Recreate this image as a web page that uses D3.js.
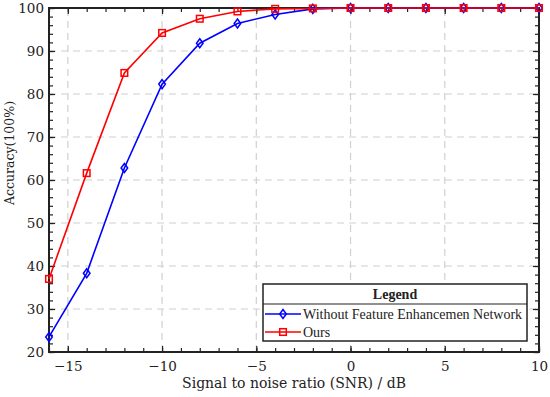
<!DOCTYPE html>
<html>
<head>
<meta charset="utf-8">
<script src="https://cdn.jsdelivr.net/npm/d3@7"></script>
<style>
  body { margin: 0; background: #fff; }
</style>
</head>
<body>
<div class="chart"></div>
<script>
var snr = [-16, -14, -12, -10, -8, -6, -4, -2, 0, 2, 4, 6, 8, 10];
var withoutFEN = [23.5, 38.3, 62.8, 82.3, 91.8, 96.4, 98.5, 99.8, 100, 100, 100, 100, 100, 100];
var ours = [37, 61.6, 84.9, 94.2, 97.5, 99.2, 99.8, 99.9, 100, 100, 100, 100, 100, 100];
var xTicks = [-15, -10, -5, 0, 5, 10];
var yTicks = [20, 30, 40, 50, 60, 70, 80, 90, 100];
var seriesNames = ["Without Feature Enhancemen Network", "Ours"];

var width = 550, height = 397;
var margin = { left: 49, right: 11, top: 8, bottom: 45 };
var cmFont = "'DejaVu Serif', serif";
var timesFont = "'Liberation Serif', serif";

var svg = d3.select(".chart").append("svg")
    .attr("width", width)
    .attr("height", height);

var x = d3.scaleLinear().domain([-16, 10]).range([margin.left, width - margin.right]);
var y = d3.scaleLinear().domain([20, 100]).range([height - margin.bottom, margin.top]);

var x0 = x.range()[0], x1 = x.range()[1], y0 = y.range()[0], y1 = y.range()[1];

// grid
var grid = svg.append("g").attr("class", "grid")
    .attr("stroke", "#d0d0d0").attr("stroke-width", 1.2).attr("stroke-dasharray", "7,5");
grid.selectAll(".gx").data(xTicks.filter(function (d) { return d > -16 && d < 10; }))
    .enter().append("line")
    .attr("x1", function (d) { return x(d); }).attr("x2", function (d) { return x(d); })
    .attr("y1", y0).attr("y2", y1);
grid.selectAll(".gy").data(yTicks.filter(function (d) { return d > 20 && d < 100; }))
    .enter().append("line")
    .attr("y1", function (d) { return y(d); }).attr("y2", function (d) { return y(d); })
    .attr("x1", x0).attr("x2", x1);

// axes: ticks pointing inward
var xMinor = d3.range(-16, 11, 1);
var yMinor = d3.range(20, 101, 2);

function styleAxis(g) {
    g.attr("font-family", cmFont).attr("font-size", 13.5);
    g.select(".domain").remove();
    g.selectAll("text").attr("fill", "#222");
    g.selectAll("line").attr("stroke", "#222").attr("stroke-width", 1.2);
}

function addAxis(axis, tx, ty) {
    svg.append("g").attr("transform", "translate(" + tx + "," + ty + ")")
        .call(axis).call(styleAxis);
}

addAxis(d3.axisBottom(x).tickValues(xMinor).tickSize(-4).tickFormat(""), 0, y0);
addAxis(d3.axisBottom(x).tickValues(xTicks).tickSize(-6).tickPadding(9)
    .tickFormat(function (d) { return d < 0 ? "\u2212" + Math.abs(d) : d; }), 0, y0);
addAxis(d3.axisTop(x).tickValues(xMinor).tickSize(-4).tickFormat(""), 0, y1);
addAxis(d3.axisTop(x).tickValues(xTicks).tickSize(-6).tickFormat(""), 0, y1);
addAxis(d3.axisLeft(y).tickValues(yMinor).tickSize(-4).tickFormat(""), x0, 0);
addAxis(d3.axisLeft(y).tickValues(yTicks).tickSize(-6).tickPadding(5), x0, 0);
addAxis(d3.axisRight(y).tickValues(yMinor).tickSize(-4).tickFormat(""), x1, 0);
addAxis(d3.axisRight(y).tickValues(yTicks).tickSize(-6).tickFormat(""), x1, 0);

// frame
svg.append("rect")
    .attr("x", x0).attr("y", y1).attr("width", x1 - x0).attr("height", y0 - y1)
    .attr("fill", "none").attr("stroke", "#222").attr("stroke-width", 2);

// lines
var line = d3.line().x(function (d) { return x(d[0]); }).y(function (d) { return y(d[1]); });
var blueData = snr.map(function (s, i) { return [s, withoutFEN[i]]; });
var redData = snr.map(function (s, i) { return [s, ours[i]]; });

function diamond(g, cx, cy, color) {
    g.append("path")
        .attr("d", "M" + cx + "," + (cy - 4.5) + "L" + (cx + 3.3) + "," + cy + "L" + cx + "," + (cy + 4.5) + "L" + (cx - 3.3) + "," + cy + "Z")
        .attr("fill", "none").attr("stroke", color).attr("stroke-width", 1.5);
}
function square(g, cx, cy, color) {
    g.append("rect")
        .attr("x", cx - 3.3).attr("y", cy - 3.3).attr("width", 6.6).attr("height", 6.6)
        .attr("fill", "none").attr("stroke", color).attr("stroke-width", 1.5);
}

var gb = svg.append("g");
gb.append("path").datum(blueData).attr("d", line)
    .attr("fill", "none").attr("stroke", "#0000ff").attr("stroke-width", 1.6);
blueData.forEach(function (d) { diamond(gb, x(d[0]), y(d[1]), "#0000ff"); });

var gr = svg.append("g");
gr.append("path").datum(redData).attr("d", line)
    .attr("fill", "none").attr("stroke", "#ff0000").attr("stroke-width", 1.6);
redData.forEach(function (d) { square(gr, x(d[0]), y(d[1]), "#ff0000"); });

// axis labels
svg.append("text")
    .attr("x", 294).attr("y", 388)
    .attr("text-anchor", "middle").attr("font-family", cmFont).attr("font-size", 14)
    .attr("fill", "#222")
    .text("Signal to noise ratio (SNR) / dB");
svg.append("text")
    .attr("transform", "translate(14,153) rotate(-90)")
    .attr("text-anchor", "middle").attr("font-family", cmFont).attr("font-size", 12.5)
    .attr("fill", "#222")
    .text("Accuracy(100%)");

// legend
var lg = svg.append("g").attr("transform", "translate(263,284)");
lg.append("rect").attr("width", 264).attr("height", 57)
    .attr("fill", "#fff").attr("stroke", "#222").attr("stroke-width", 1.5);
lg.append("line").attr("x1", 0).attr("x2", 264).attr("y1", 20).attr("y2", 20)
    .attr("stroke", "#222").attr("stroke-width", 1.2);
lg.append("text").attr("x", 132).attr("y", 15).attr("text-anchor", "middle")
    .attr("font-family", timesFont).attr("font-size", 14).attr("font-weight", "bold")
    .attr("fill", "#222").text("Legend");
var colors = ["#0000ff", "#ff0000"];
seriesNames.forEach(function (name, i) {
    var cy = 30 + i * 18;
    lg.append("line").attr("x1", 2).attr("x2", 38).attr("y1", cy).attr("y2", cy)
        .attr("stroke", colors[i]).attr("stroke-width", 1.6);
    if (i === 0) diamond(lg, 20, cy, colors[i]); else square(lg, 20, cy, colors[i]);
    lg.append("text").attr("x", 40).attr("y", cy + 4.5)
        .attr("font-family", timesFont).attr("font-size", 14)
        .attr("fill", "#222").text(name);
});
</script>
</body>
</html>
